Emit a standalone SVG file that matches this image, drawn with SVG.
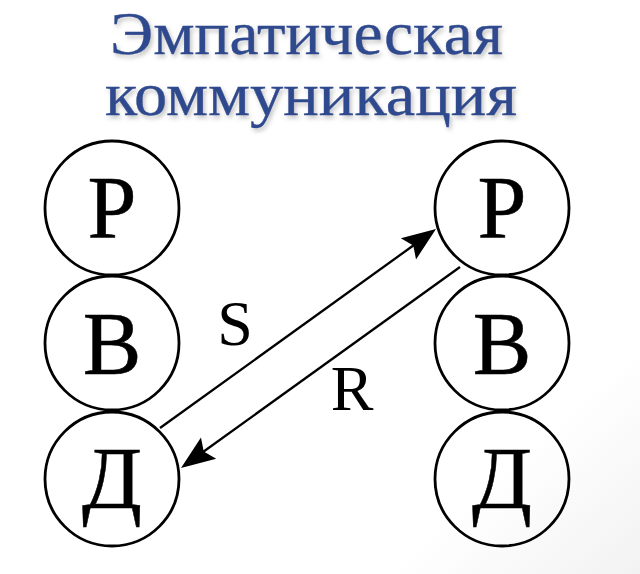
<svg xmlns="http://www.w3.org/2000/svg" width="640" height="574" viewBox="0 0 640 574">
  <defs>
    <filter id="shadow" filterUnits="userSpaceOnUse" x="80" y="0" width="480" height="150">
      <feDropShadow dx="2" dy="3" stdDeviation="2" flood-color="#888" flood-opacity="0.5"/>
    </filter>
    <path id="arrowhead" d="M0,0 L-34,-13 L-28,0 L-34,13 Z" fill="#000"/>
    <linearGradient id="bg" x1="0" y1="0" x2="1" y2="1">
      <stop offset="0" stop-color="#ffffff"/>
      <stop offset="0.8" stop-color="#ffffff"/>
      <stop offset="1" stop-color="#f2f2f2"/>
    </linearGradient>
  </defs>
  <style>
    .title { font-family: "Liberation Serif", "DejaVu Serif", serif; font-size: 61px; fill: #2E4A8E; stroke: #2E4A8E; stroke-width: 0.35; }
    .node circle { fill: none; stroke: #000; stroke-width: 2.8; }
    .node text { font-family: "Liberation Serif", "DejaVu Serif", serif; font-size: 88px; fill: #000; stroke: #000; stroke-width: 0.5; text-anchor: middle; }
    .edge { stroke: #000; stroke-width: 2.3; fill: none; }
    .lbl { font-family: "Liberation Serif", "DejaVu Serif", serif; font-size: 64px; fill: #000; text-anchor: middle; }
  </style>
  <rect x="0" y="0" width="640" height="574" fill="url(#bg)"/>
  <g id="title" filter="url(#shadow)">
    <text class="title" x="110" y="54" textLength="393" lengthAdjust="spacingAndGlyphs">Эмпатическая</text>
    <text class="title" x="105" y="115" textLength="412" lengthAdjust="spacingAndGlyphs">коммуникация</text>
  </g>
  <g id="left-P" class="node"><circle cx="112" cy="208" r="67"/><text x="112" y="237">Р</text></g>
  <g id="left-B" class="node"><circle cx="112" cy="343" r="67"/><text x="112" y="373">В</text></g>
  <g id="left-D" class="node"><circle cx="112" cy="479" r="67"/><text x="112" y="508">Д</text></g>
  <g id="right-P" class="node"><circle cx="502" cy="208" r="67"/><text x="502" y="237">Р</text></g>
  <g id="right-B" class="node"><circle cx="502" cy="343" r="67"/><text x="502" y="373">В</text></g>
  <g id="right-D" class="node"><circle cx="502" cy="479" r="67"/><text x="502" y="508">Д</text></g>
  <g id="connectors">
    <line class="edge" x1="160" y1="428" x2="414" y2="245"/>
    <use href="#arrowhead" transform="translate(436,229) rotate(-35.8)"/>
    <line class="edge" x1="460" y1="267" x2="203" y2="452"/>
    <use href="#arrowhead" transform="translate(181,468) rotate(144.2)"/>
    <text class="lbl" x="235" y="345">S</text>
    <text class="lbl" x="352" y="410">R</text>
  </g>
</svg>
